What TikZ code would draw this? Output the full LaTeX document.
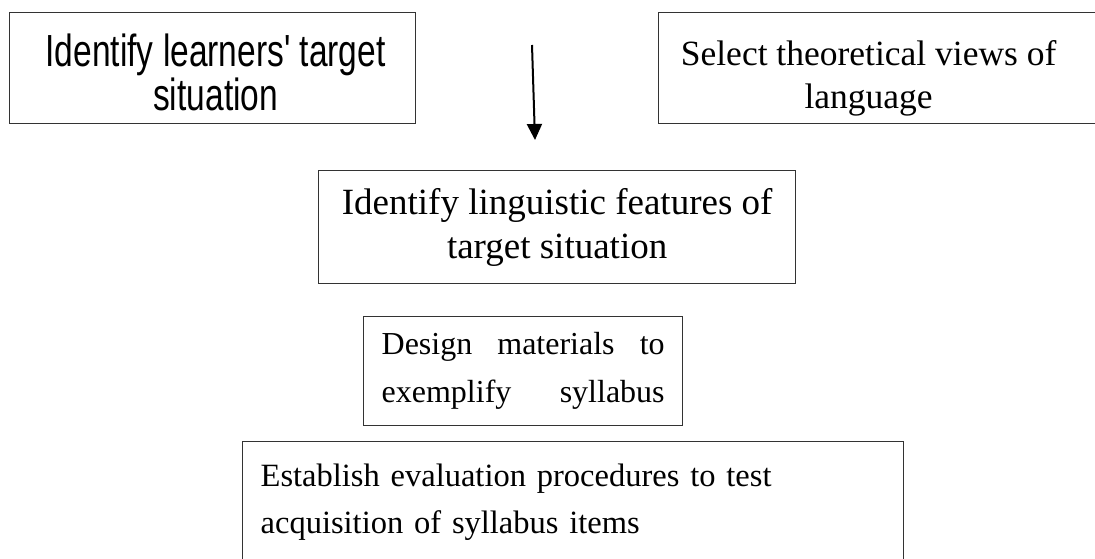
\documentclass[tikz,border=0pt]{standalone}
\usepackage{fontspec}
\setmainfont{Liberation Serif}
\newfontfamily\narrowsans[FakeStretch=0.745]{Liberation Sans}
\usepackage{tikz}
\usetikzlibrary{arrows.meta}

\tikzset{
  stagebox/.style={draw=black!80, line width=1.3pt, rectangle, inner sep=0pt, anchor=north west, align=center},
  stagearrow/.style={line width=2pt, -{Triangle[width=15pt,length=16pt]}}
}

\begin{document}
\begin{tikzpicture}[x=1pt,y=-1pt]
\useasboundingbox (0,0) rectangle (1095,559);
\clip (0,0) rectangle (1095,559);
\fill[white] (0,0) rectangle (1095,559);

% Top row
\node[stagebox, minimum width=406, minimum height=111, font={\narrowsans\fontsize{45}{44}\selectfont}] (target) at (9,12) {\hspace{6pt}\parbox{380pt}{\centering\rule{0pt}{42pt}Identify learners' target\\situation}};
\node[stagebox, minimum height=111, font={\fontsize{35.5}{43}\selectfont}] (views) at (658,12) {\parbox{420pt}{\centering\rule{0pt}{46pt}Select theoretical views of\\language}\hspace{40pt}};

% Arrow
\coordinate (arrowtop) at (532,45);
\coordinate (arrowtip) at (535,140);
\draw[stagearrow] (arrowtop) -- (arrowtip);

% Middle steps
\node[stagebox, minimum width=477, minimum height=113, font={\fontsize{37}{44}\selectfont}] (features) at (318,170) {Identify linguistic features of\\target situation};
\node[stagebox, minimum width=319, minimum height=109, font={\fontsize{32}{48}\selectfont}] (materials) at (363,316) {\makebox[283pt][s]{Design materials to}\\\makebox[283pt][s]{exemplify syllabus}};

% Last step
\node[stagebox, align=left, text width=625pt, inner xsep=18pt, inner ysep=22pt, font={\fontsize{32.5}{47}\selectfont}] (evaluation) at (242,441) {Establish evaluation procedures to test\\acquisition of syllabus items\rule[-80pt]{0pt}{80pt}};
\end{tikzpicture}
\end{document}
